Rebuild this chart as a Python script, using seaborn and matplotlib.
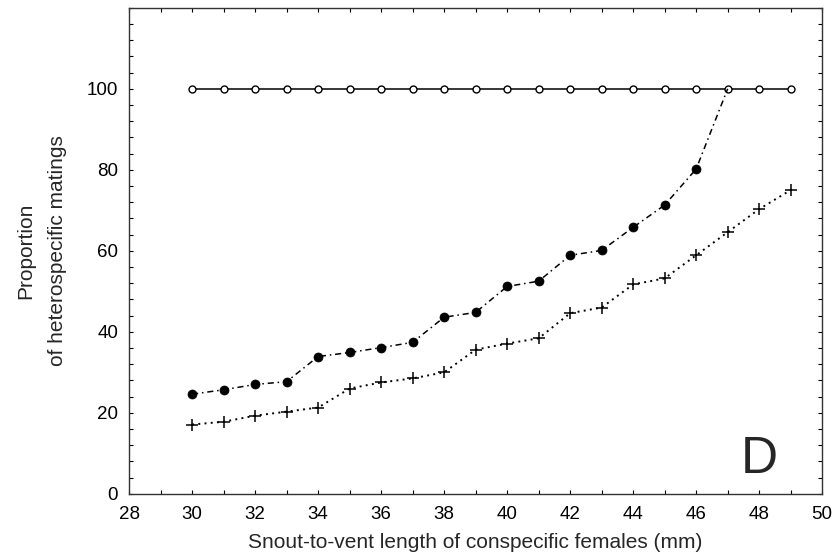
import pandas as pd
import seaborn as sns
import matplotlib
matplotlib.use('Agg')
from matplotlib import pyplot as plt
from matplotlib.ticker import MultipleLocator

# Snout-to-vent length (mm)
svl_open = list(range(30, 50))
open_pct = [100] * 20

svl_filled = list(range(30, 48))
filled_pct = [24.6, 25.7, 27.0, 27.7, 33.9, 34.9, 36.1, 37.4, 43.6, 44.8,
              51.2, 52.5, 58.9, 60.1, 65.8, 71.3, 80.2, 100]

svl_cross = list(range(30, 50))
cross_pct = [17.1, 17.8, 19.3, 20.3, 21.3, 26.0, 27.5, 28.5, 30.0, 35.6,
             37.1, 38.4, 44.6, 46.0, 51.7, 53.2, 58.9, 64.6, 70.3, 75.0]

sns.set_style('ticks')
plt.rcParams['font.family'] = ['Liberation Sans', 'DejaVu Sans']

fig = plt.figure(figsize=(8.33, 5.58), dpi=100)
ax = fig.add_axes([0.155, 0.115, 0.832, 0.871])

df_open = pd.DataFrame({'svl': svl_open, 'pct': open_pct})
df_filled = pd.DataFrame({'svl': svl_filled, 'pct': filled_pct})
df_cross = pd.DataFrame({'svl': svl_cross, 'pct': cross_pct})

sns.lineplot(data=df_open, x='svl', y='pct', ax=ax, color='black', linewidth=1.1,
             marker='o', markersize=5, markerfacecolor='white',
             markeredgecolor='black', markeredgewidth=1.0)
sns.lineplot(data=df_filled, x='svl', y='pct', ax=ax, color='black', linewidth=1.1,
             linestyle=(0, (4, 2.5, 1, 2.5)), marker='o', markersize=6.5,
             markeredgecolor='black', markeredgewidth=0.5,
             markevery=list(range(len(svl_filled) - 1)))
sns.lineplot(data=df_cross, x='svl', y='pct', ax=ax, color='black', linewidth=1.4,
             linestyle=(0, (1, 2.2)), marker='+', markersize=8,
             markeredgecolor='black', markeredgewidth=1.1)

ax.set_xlim(28, 50)
ax.set_ylim(0, 120)
ax.set_xticks(range(28, 51, 2))
ax.set_yticks(range(0, 101, 20))
ax.xaxis.set_minor_locator(MultipleLocator(1))
ax.yaxis.set_minor_locator(MultipleLocator(4))
ax.tick_params(which='both', direction='in', top=True, right=True,
               length=3, width=0.8, colors='black')
ax.tick_params(axis='both', labelsize=13.5)
ax.tick_params(axis='x', pad=9)
ax.tick_params(axis='y', pad=8)
for side in ax.spines.values():
    side.set_visible(True)
    side.set_linewidth(1.0)
    side.set_color('#333333')

ax.set_xlabel('Snout-to-vent length of conspecific females (mm)', fontsize=15, labelpad=7)
ax.set_ylabel('Proportion\nof heterospecific matings', fontsize=15, labelpad=14,
              linespacing=1.85)
ax.text(48.0, 2.5, 'D', fontsize=37, ha='center', va='bottom')

fig.savefig('out.png', dpi=100)
